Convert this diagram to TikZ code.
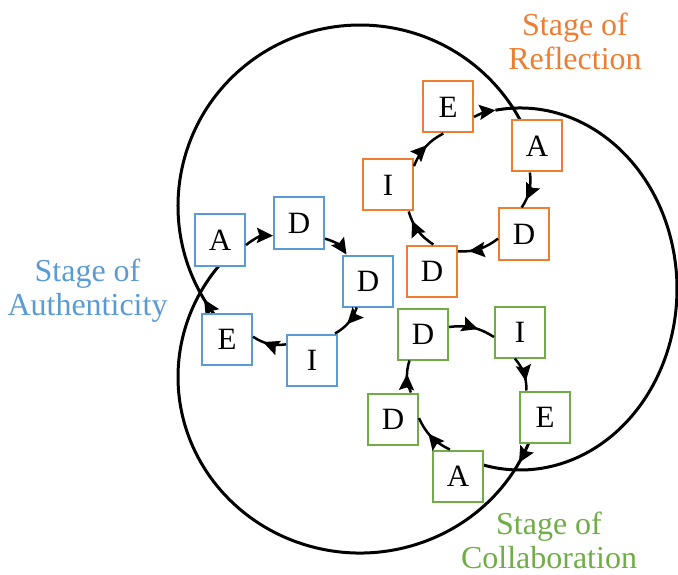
\documentclass[tikz,border=0pt]{standalone}
\usepackage{fontspec}
\setmainfont{Liberation Serif}
\usetikzlibrary{arrows.meta,decorations.markings,backgrounds,calc}
\definecolor{bcol}{RGB}{91,155,213}
\definecolor{ocol}{RGB}{237,125,49}
\definecolor{gcol}{RGB}{112,173,71}
\begin{document}
\begin{tikzpicture}[x=1pt,y=1pt,
  box/.style={draw=#1, fill=white, line width=2pt, minimum width=50pt, minimum height=51pt, inner sep=0pt, font=\fontsize{31}{34}\selectfont},
  conn/.style={line width=2.5pt},
  endarr/.style={-{Stealth[length=16pt,width=15pt,inset=2.5pt]}},
  midarr/.style={postaction={decorate}, decoration={markings, mark=at position #1 with {\arrow{Stealth[length=16pt,width=15pt,inset=2.5pt]}}}},
  lab/.style={text=#1, align=center, font=\fontsize{32}{34}\selectfont, inner sep=0pt},
  bigline/.style={line width=3pt}
]
\useasboundingbox (0,0) rectangle (678,-575);

% Blue cycle
\node[box=bcol] (bA) at (220,-240) {A};
\node[box=bcol] (bD1) at (299,-223) {D};
\node[box=bcol] (bD2) at (368,-281) {D};
\node[box=bcol] (bI) at (312,-360) {I};
\node[box=bcol] (bE) at (227,-339) {E};
% Orange cycle
\node[box=ocol] (oE) at (448,-107) {E};
\node[box=ocol] (oA) at (537,-146) {A};
\node[box=ocol] (oD1) at (524,-234) {D};
\node[box=ocol] (oD2) at (432,-271) {D};
\node[box=ocol] (oI) at (388,-185) {I};
% Green cycle
\node[box=gcol] (gD1) at (423,-334) {D};
\node[box=gcol] (gI) at (520,-332) {I};
\node[box=gcol] (gE) at (545,-417) {E};
\node[box=gcol] (gA) at (458,-476) {A};
\node[box=gcol] (gD2) at (393,-419) {D};

% Labels (anchor = baseline of the last line)
\node[lab=bcol, anchor=base] (labA) at (87.5,-315) {Stage of\\Authenticity};
\node[lab=ocol, anchor=base] (labR) at (575,-70) {Stage of\\Reflection};
\node[lab=gcol, anchor=base] (labC) at (549,-568) {Stage of\\Collaboration};

\coordinate (Rs) at ($(520,-289)+(99:157 and 181)$);

% Large stage curves
\begin{scope}[on background layer]
\draw[bigline, midarr=0.036] (360,-206) ++(218:182 and 181) arc[start angle=218, end angle=25, x radius=182, y radius=181];
\draw[bigline, midarr=0.045] (360,-377) ++(340:182 and 176) arc[start angle=340, end angle=138, x radius=182, y radius=176];
\draw[bigline] (Rs) arc[start angle=99, end angle=-106, x radius=157, y radius=181];
\end{scope}

% Blue connectors
\draw[conn,endarr] (bA.-11) to[bend left=20] (bD1.206);
\draw[conn,endarr] (bD1.-31) to[bend left=20] (bD2.129);
\draw[conn,midarr=0.56] (bD2.-113) to[bend left=20] (bI.49);
\draw[conn,midarr=0.67] (bI.149) to[bend left=20] (bE.5);
% Orange connectors
\draw[conn,endarr] (oE.-21) to[bend left=10] (Rs);
\draw[conn,midarr=0.76] (oA.-105) to[bend left=20] (oD1.95);
\draw[conn,midarr=0.75] (oD1.190) to[bend left=20] (oD2.37);
\draw[conn,midarr=0.77] (oD2.87) to[bend left=20] (oI.-52);
\draw[conn,midarr=0.55] (oI.36) to[bend left=20] (oE.-100);
% Green connectors
\draw[conn,midarr=0.62] (gD1.15) to[bend left=20] (gI.191);
\draw[conn,midarr=0.73] (gI.-101) to[bend left=20] (gE.125);
\draw[conn,midarr=0.6] (gA.107) to[bend left=20] (gD2.2);
\draw[conn,midarr=0.58] (gD2.56) to[bend left=20] (gD1.-117);
\end{tikzpicture}
\end{document}
